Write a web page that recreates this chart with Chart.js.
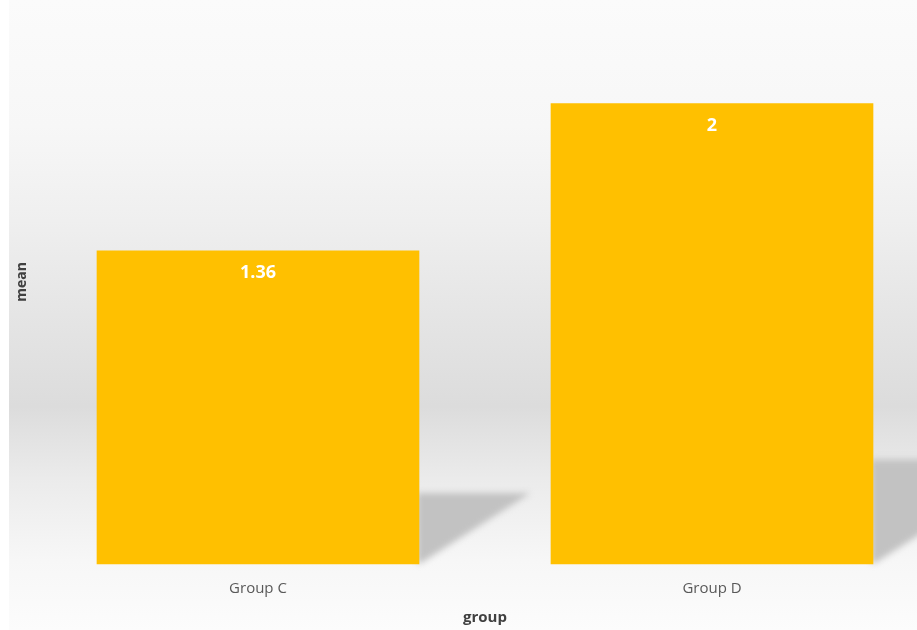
<!DOCTYPE html>
<html>
<head>
<meta charset="utf-8">
<script src="https://cdn.jsdelivr.net/npm/chart.js@4.4.0/dist/chart.umd.min.js"></script>
<style>
  html, body { margin: 0; padding: 0; background: #ffffff; }
  #wrap { width: 917px; height: 630px; position: relative; }
</style>
</head>
<body>
<div id="wrap"><canvas id="c" width="917" height="630"></canvas></div>
<script>
const categories = ["Group C", "Group D"];
const meanValues = [1.36, 2];
const valueLabels = ["1.36", "2"];
const xTitle = "group";
const yTitle = "mean";

const bgPlugin = {
  id: 'bg',
  beforeDraw(chart) {
    const { ctx, width, height } = chart;
    ctx.save();
    ctx.fillStyle = '#ffffff';
    ctx.fillRect(0, 0, width, height);
    const g = ctx.createLinearGradient(0, 0, 0, height);
    g.addColorStop(0.00, '#fbfbfb');
    g.addColorStop(0.20, '#f7f7f7');
    g.addColorStop(0.35, '#efefef');
    g.addColorStop(0.50, '#e5e5e5');
    g.addColorStop(0.645, '#dcdcdc');
    g.addColorStop(0.76, '#ebebeb');
    g.addColorStop(0.89, '#f7f7f7');
    g.addColorStop(1.00, '#fcfcfc');
    ctx.fillStyle = g;
    ctx.fillRect(9, 0, width - 9, height);
    ctx.restore();
  }
};

const shadowPlugin = {
  id: 'barShadow',
  beforeDatasetsDraw(chart) {
    const { ctx } = chart;
    const meta = chart.getDatasetMeta(0);
    ctx.save();
    ctx.filter = 'blur(3px)';
    ctx.fillStyle = '#c2c2c2';
    meta.data.forEach(bar => {
      const right = bar.x + bar.width / 2;
      const h = bar.base - bar.y;
      const sh = 0.227 * h;
      const reach = 0.356 * h;
      ctx.beginPath();
      ctx.moveTo(right - 2, bar.base - sh);
      ctx.lineTo(right + reach, bar.base - sh);
      ctx.lineTo(right + 2, bar.base - 1);
      ctx.lineTo(right - 2, bar.base - 1);
      ctx.closePath();
      ctx.fill();
    });
    ctx.restore();
  }
};

const labelPlugin = {
  id: 'valLabels',
  afterDatasetsDraw(chart) {
    const { ctx } = chart;
    const meta = chart.getDatasetMeta(0);
    ctx.save();
    ctx.fillStyle = '#ffffff';
    ctx.font = 'bold 18px "Open Sans", sans-serif';
    ctx.textAlign = 'center';
    ctx.textBaseline = 'middle';
    meta.data.forEach((bar, i) => {
      ctx.fillText(valueLabels[i], bar.x, bar.y + 22);
    });
    ctx.restore();
  }
};

new Chart(document.getElementById('c'), {
  type: 'bar',
  data: {
    labels: categories,
    datasets: [{
      data: meanValues,
      backgroundColor: '#FFC000',
      borderWidth: 0,
      barThickness: 322,
      clip: false
    }]
  },
  options: {
    responsive: false,
    animation: false,
    devicePixelRatio: 1,
    layout: { padding: { left: 10, right: 205, top: 0, bottom: 3 } },
    plugins: {
      legend: { display: false },
      tooltip: { enabled: false }
    },
    scales: {
      x: {
        offset: false,
        grid: { display: false },
        border: { display: false },
        ticks: {
          color: '#595959',
          font: { family: '"Open Sans", sans-serif', size: 15 },
          padding: 8,
          maxRotation: 0,
          autoSkip: false
        },
        title: {
          display: true,
          text: xTitle,
          color: '#404040',
          font: { family: '"Open Sans", sans-serif', size: 15, weight: 'bold' },
          padding: { top: 3, bottom: 0 }
        }
      },
      y: {
        min: 0,
        max: 2.45,
        grid: { display: false },
        border: { display: false },
        ticks: { display: false },
        title: {
          display: true,
          text: yTitle,
          color: '#404040',
          font: { family: '"Open Sans", sans-serif', size: 14, weight: 'bold' },
          padding: { top: 4, bottom: 0 }
        },
        afterFit(scale) { scale.width = 248; }
      }
    }
  },
  plugins: [bgPlugin, shadowPlugin, labelPlugin]
});
</script>
</body>
</html>
